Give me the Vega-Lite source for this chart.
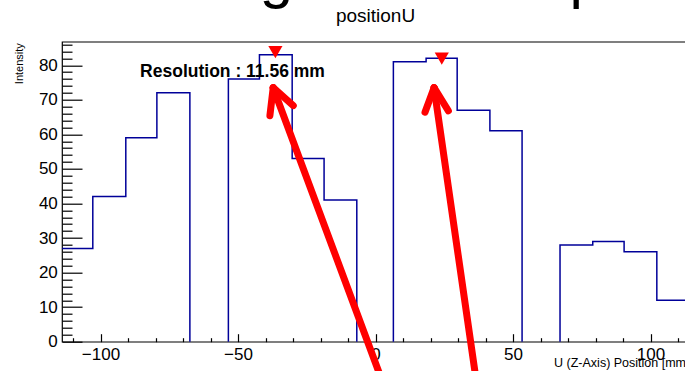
{
  "$schema": "https://vega.github.io/schema/vega-lite/v6.json",
  "width": 627,
  "height": 300,
  "autosize": "none",
  "padding": {"left": 62, "top": 41.7, "right": 0, "bottom": 29.3},
  "background": "white",
  "config": {
    "view": {"stroke": "#000000", "strokeWidth": 1.2},
    "font": "Liberation Sans",
    "axis": {
      "grid": false,
      "domain": false,
      "tickColor": "#000000",
      "tickWidth": 1.2,
      "labelColor": "#000000",
      "labelFont": "Liberation Sans",
      "labelFontSize": 17,
      "titleColor": "#000000",
      "titleFont": "Liberation Sans",
      "titleFontWeight": "normal"
    }
  },
  "title": {
    "text": "positionU",
    "font": "Liberation Sans",
    "fontSize": 19,
    "fontWeight": "normal",
    "color": "#000000",
    "anchor": "middle",
    "frame": "group",
    "baseline": "alphabetic",
    "offset": -92
  },
  "datasets": {
    "hist": [
      {"grp": "a", "pos": -114, "count": 27},
      {"grp": "a", "pos": -102.8, "count": 42},
      {"grp": "a", "pos": -90.8, "count": 59},
      {"grp": "a", "pos": -79.5, "count": 72},
      {"grp": "a", "pos": -67.5, "count": 0},
      {"grp": "b", "pos": -53.5, "count": 0},
      {"grp": "b", "pos": -53.5, "count": 76},
      {"grp": "b", "pos": -42.2, "count": 83},
      {"grp": "b", "pos": -30.3, "count": 53},
      {"grp": "b", "pos": -18.7, "count": 41},
      {"grp": "b", "pos": -6.8, "count": 0},
      {"grp": "c", "pos": 6.5, "count": 0},
      {"grp": "c", "pos": 6.5, "count": 81},
      {"grp": "c", "pos": 18.4, "count": 82},
      {"grp": "c", "pos": 29.7, "count": 67},
      {"grp": "c", "pos": 41.6, "count": 61},
      {"grp": "c", "pos": 53.3, "count": 0},
      {"grp": "d", "pos": 67.1, "count": 0},
      {"grp": "d", "pos": 67.1, "count": 28},
      {"grp": "d", "pos": 79.0, "count": 29},
      {"grp": "d", "pos": 90.4, "count": 26},
      {"grp": "d", "pos": 102.3, "count": 12},
      {"grp": "d", "pos": 114, "count": 12}
    ],
    "peaks": [
      {"pos": -36.4, "val": 83.8},
      {"pos": 24.1, "val": 81.9}
    ],
    "arrows": [
      {"x": -37.2, "y": 73.5, "x2": 2.3, "y2": -11.1},
      {"x": -37.2, "y": 73.5, "x2": -38.4, "y2": 65.4},
      {"x": -37.2, "y": 73.5, "x2": -29.9, "y2": 68.3},
      {"x": 21.3, "y": 73.5, "x2": 36.6, "y2": -11.1},
      {"x": 21.3, "y": 73.5, "x2": 18.0, "y2": 66.4},
      {"x": 21.3, "y": 73.5, "x2": 26.5, "y2": 66.8}
    ],
    "notes": [
      {"pos": -85.6, "val": 76.7, "label": "Resolution : 11.56 mm"}
    ],
    "glyphs": [
      {"pos": -36.0, "val": 99.8, "ch": "g"},
      {"pos": 76.6, "val": 99.8, "ch": "p"}
    ]
  },
  "layer": [
    {
      "data": {"name": "hist"},
      "mark": {"type": "line", "interpolate": "step-after", "color": "#000099", "strokeWidth": 1.5},
      "encoding": {
        "x": {
          "field": "pos", "type": "quantitative",
          "scale": {"domain": [-114, 114], "nice": false, "zero": false},
          "axis": {
            "orient": "bottom",
            "values": [-100, -50, 0, 50, 100],
            "tickSize": -8,
            "labelPadding": 13,
            "labelFlush": false,
            "title": "U (Z-Axis)  Position [mm]",
            "titleFontSize": 12.5,
            "titleAnchor": "end",
            "titleAlign": "right",
            "titleBaseline": "alphabetic",
            "titleY": 25
          }
        },
        "y": {
          "field": "count", "type": "quantitative",
          "scale": {"domain": [0, 86.8], "nice": false},
          "axis": {
            "orient": "left",
            "values": [0, 10, 20, 30, 40, 50, 60, 70, 80],
            "tickSize": -20,
            "labelPadding": 24.7,
            "labelFlush": false,
            "title": "Intensity",
            "titleFontSize": 11,
            "titleAngle": -90,
            "titleAnchor": "end",
            "titleAlign": "right",
            "titleBaseline": "alphabetic",
            "titleX": -40,
            "titleY": 1
          }
        },
        "detail": {"field": "grp"},
        "order": {"value": null}
      }
    },
    {
      "data": {"name": "hist"},
      "mark": {"type": "point", "opacity": 0},
      "encoding": {
        "x": {
          "field": "pos", "type": "quantitative",
          "axis": {
            "orient": "bottom",
            "values": [-110, -90, -80, -70, -60, -40, -30, -20, -10, 10, 20, 30, 40, 60, 70, 80, 90, 110],
            "tickSize": -4,
            "labels": false,
            "title": null
          }
        },
        "y": {
          "field": "count", "type": "quantitative",
          "axis": {
            "orient": "left",
            "values": [2, 4, 6, 8, 12, 14, 16, 18, 22, 24, 26, 28, 32, 34, 36, 38, 42, 44, 46, 48, 52, 54, 56, 58, 62, 64, 66, 68, 72, 74, 76, 78, 82, 84, 86],
            "tickSize": -10,
            "labels": false,
            "title": null
          }
        }
      }
    },
    {
      "data": {"name": "notes"},
      "mark": {"type": "text", "align": "left", "baseline": "alphabetic", "font": "Liberation Sans", "fontWeight": "bold", "fontSize": 17.5, "color": "#000000"},
      "encoding": {
        "x": {"field": "pos", "type": "quantitative", "axis": null},
        "y": {"field": "val", "type": "quantitative", "axis": null},
        "text": {"field": "label"}
      }
    },
    {
      "data": {"name": "peaks"},
      "mark": {"type": "point", "shape": "triangle-down", "filled": true, "color": "#ff0000", "size": 200, "opacity": 1},
      "encoding": {
        "x": {"field": "pos", "type": "quantitative", "axis": null},
        "y": {"field": "val", "type": "quantitative", "axis": null}
      }
    },
    {
      "data": {"name": "arrows"},
      "mark": {"type": "rule", "color": "#ff0000", "strokeWidth": 7, "strokeCap": "round"},
      "encoding": {
        "x": {"field": "x", "type": "quantitative", "axis": null},
        "y": {"field": "y", "type": "quantitative", "axis": null},
        "x2": {"field": "x2"},
        "y2": {"field": "y2"}
      }
    },
    {
      "data": {"name": "glyphs"},
      "mark": {"type": "text", "align": "center", "baseline": "alphabetic", "font": "Liberation Sans", "fontSize": 60, "color": "#000000"},
      "encoding": {
        "x": {"field": "pos", "type": "quantitative", "axis": null},
        "y": {"field": "val", "type": "quantitative", "axis": null},
        "text": {"field": "ch"}
      }
    }
  ],
  "resolve": {"axis": {"x": "independent", "y": "independent"}}
}
